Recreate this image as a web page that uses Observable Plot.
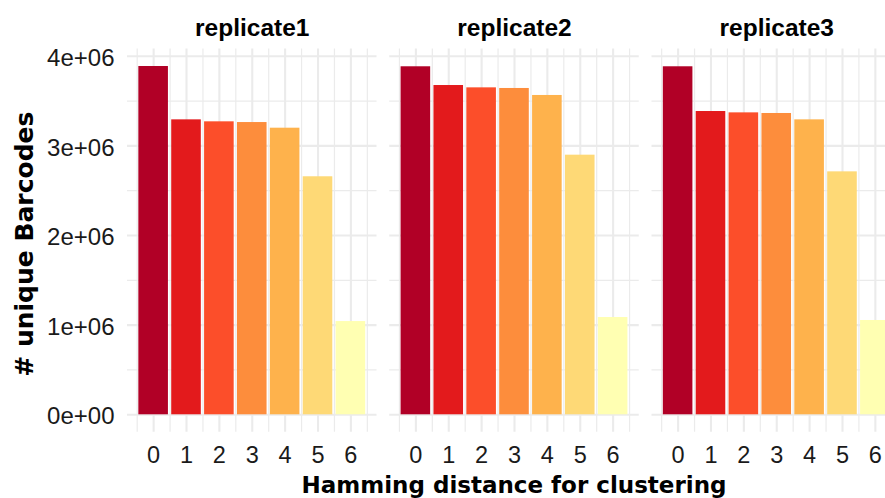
<!DOCTYPE html>
<html>
<head>
<meta charset="utf-8">
<script src="https://cdn.jsdelivr.net/npm/d3@7"></script>
<script src="https://cdn.jsdelivr.net/npm/@observablehq/plot@0.6"></script>
<style>
  html, body { margin: 0; padding: 0; background: #fff; overflow: hidden; }
  #chart { width: 901px; }
</style>
</head>
<body>
<div id="chart"></div>
<script>
// ---- data ----
const replicates = ["replicate1", "replicate2", "replicate3"];
const distances = [0, 1, 2, 3, 4, 5, 6];
const replicate1 = [3885000, 3290000, 3268000, 3260000, 3197000, 2655000, 1040000];
const replicate2 = [3882000, 3673000, 3647000, 3640000, 3562000, 2896000, 1085000];
const replicate3 = [3882000, 3383000, 3368000, 3361000, 3290000, 2710000, 1052000];
const barColors = ["#b10026", "#e31a1c", "#fc4e2a", "#fd8d3c", "#feb24c", "#fed976", "#ffffb2"];
const yTicks = [0, 1e6, 2e6, 3e6, 4e6];
const yTickLabels = ["0e+00", "1e+06", "2e+06", "3e+06", "4e+06"];
const yMinorTicks = [5e5, 1.5e6, 2.5e6, 3.5e6];
const xMinorTicks = [-0.5, 0.5, 1.5, 2.5, 3.5, 4.5, 5.5, 6.5];
const xTitle = "Hamming distance for clustering";
const yTitle = "# unique Barcodes";

const seriesByReplicate = {replicate1, replicate2, replicate3};
const rows = [];
for (const r of replicates) {
  seriesByReplicate[r].forEach((v, i) => rows.push({replicate: r, distance: distances[i], value: v}));
}

// ggplot-like 5% expansion
const barHalf = 0.45;
const yMax = d3.max(rows, d => d.value);
const yDomain = [-0.05 * yMax, yMax * 1.05];
const xSpan = (d3.max(distances) + barHalf) - (d3.min(distances) - barHalf);
const xDomain = [d3.min(distances) - barHalf - 0.05 * xSpan, d3.max(distances) + barHalf + 0.05 * xSpan];

const font = "Liberation Sans";
const titleFont = "DejaVu Sans";
const gridColor = "#ebebeb";
const W = 901, H = 498;
const mL = 127, mR = 0, mT = 48.6, mB = 66.3;

const chart = Plot.plot({
  width: W,
  height: H,
  marginLeft: mL,
  marginRight: mR,
  marginTop: mT,
  marginBottom: mB,
  style: {fontFamily: font, fontSize: "24px", color: "#1a1a1a", background: "#fff", overflow: "visible"},
  fx: {domain: replicates, paddingInner: 0.0485, paddingOuter: 0, round: false, axis: null, label: null},
  x: {domain: xDomain, axis: null},
  y: {domain: yDomain, axis: null},
  color: {type: "ordinal", domain: distances, range: barColors},
  marks: [
    Plot.gridY(yMinorTicks, {stroke: gridColor, strokeOpacity: 1, strokeWidth: 1.2}),
    Plot.gridX(xMinorTicks, {stroke: gridColor, strokeOpacity: 1, strokeWidth: 1.2}),
    Plot.gridY(yTicks, {stroke: gridColor, strokeOpacity: 1, strokeWidth: 2.1}),
    Plot.gridX(distances, {stroke: gridColor, strokeOpacity: 1, strokeWidth: 2.1}),
    Plot.rectY(rows, {
      fx: "replicate",
      x1: d => d.distance - barHalf,
      x2: d => d.distance + barHalf,
      y1: 0,
      y2: "value",
      fill: "distance"
    }),
    Plot.axisY(yTicks, {
      tickSize: 0, tickPadding: 13, fontSize: 24, dy: 2,
      tickFormat: d => yTickLabels[yTicks.indexOf(d)],
      label: null
    }),
    Plot.axisX(distances, {tickSize: 0, tickPadding: 14, fontSize: 23.5, label: null}),
    Plot.text(replicates, {
      fx: d => d, text: d => d,
      frameAnchor: "top", lineAnchor: "bottom", dy: -13,
      fontSize: 24.5, fontWeight: "bold", fill: "#000"
    })
  ]
});

const svg = d3.select(chart);
svg.append("text")
  .attr("x", (mL + W - mR) / 2)
  .attr("y", 493)
  .attr("text-anchor", "middle")
  .attr("font-family", titleFont)
  .attr("font-weight", "bold")
  .attr("font-size", 23)
  .attr("fill", "#000")
  .text(xTitle);
svg.append("text")
  .attr("transform", `translate(33,${(mT + H - mB) / 2 + 4}) rotate(-90)`)
  .attr("text-anchor", "middle")
  .attr("font-family", titleFont)
  .attr("font-weight", "bold")
  .attr("font-size", 25)
  .attr("fill", "#000")
  .text(yTitle);

document.getElementById("chart").appendChild(chart);
</script>
</body>
</html>
